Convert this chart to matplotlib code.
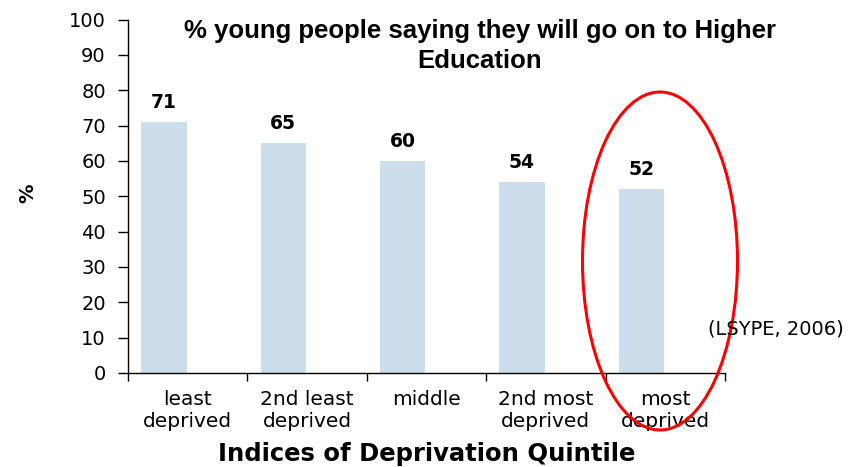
import numpy as np
import matplotlib
matplotlib.use("Agg")
import matplotlib.pyplot as plt
from matplotlib.patches import Ellipse

plt.rcParams['font.family'] = ['DejaVu Sans']

# Deprivation quintiles and share of young people expecting to go to HE
quintiles = ["least\ndeprived", "2nd least\ndeprived", "middle",
             "2nd most\ndeprived", "most\ndeprived"]
percent_he = [71, 65, 60, 54, 52]

bar_color = "#ccdeeb"

fig = plt.figure(figsize=(8.64, 4.67), dpi=100)
ax = fig.add_axes([128 / 864, 1 - 373 / 467, (725 - 128) / 864, (373 - 19.5) / 467])

x = np.arange(len(quintiles))
bars = ax.bar(x - 0.2, percent_he, width=0.38, color=bar_color)

for xi, v in zip(x, percent_he):
    ax.text(xi - 0.2, v + 4.0, str(v), ha="center", va="baseline",
            fontsize=13.5, fontweight="bold")

ax.set_xlim(-0.5, len(quintiles) - 0.5)
ax.set_ylim(0, 100)
ax.set_yticks(np.arange(0, 101, 10))
ax.tick_params(axis="y", length=7, width=1, labelsize=14, pad=9)

# category labels at the centres, tick marks at the boundaries
ax.set_xticks(x)
ax.set_xticklabels(quintiles, fontsize=14.5, linespacing=1.2)
ax.tick_params(axis="x", which="major", length=0, pad=12)
ax.set_xticks(np.arange(-0.5, len(quintiles)), minor=True)
ax.tick_params(axis="x", which="minor", length=6, width=1)

for side in ("top", "right"):
    ax.spines[side].set_visible(False)
for side in ("left", "bottom"):
    ax.spines[side].set_linewidth(1)

ax.set_ylabel("%", fontsize=14, fontweight="bold")
ax.yaxis.set_label_coords((28 - 128) / 597, (373 - 193) / 353.5)
ax.yaxis.label.set_va("center")
ax.set_xlabel("Indices of Deprivation Quintile", fontsize=17.5,
              fontweight="bold")
ax.xaxis.set_label_coords((427 - 128) / 597, (373 - 454) / 353.5)
ax.xaxis.label.set_va("center")

fig.text(480 / 864, 1 - 46 / 467,
         "% young people saying they will go on to Higher\nEducation",
         ha="center", va="center", fontsize=18.5, fontweight="bold",
         family="Liberation Sans", linespacing=1.3)

fig.text(708 / 864, 1 - 329 / 467, "(LSYPE, 2006)", ha="left", va="center",
         fontsize=14)

# highlight around the most deprived group
ring = Ellipse((660 / 864, 1 - 261 / 467), 155 / 864, 338 / 467,
               transform=fig.transFigure, fill=False, edgecolor="red",
               linewidth=2.2)
fig.patches.append(ring)

fig.savefig("out.png", dpi=100)
